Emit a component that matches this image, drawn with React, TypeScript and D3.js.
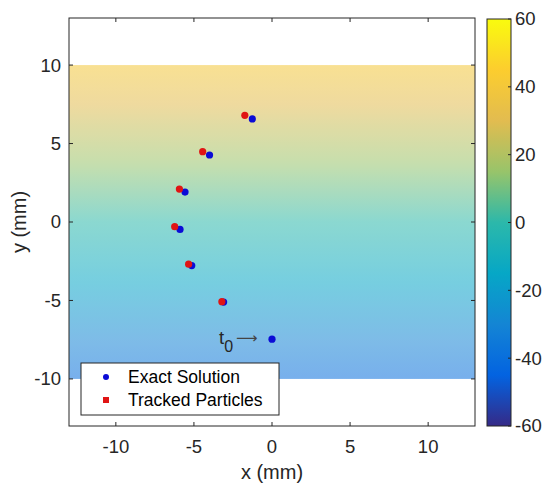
import React from "react";
import * as d3 from "d3";

const W = 545;
const H = 487;

// Data
const exactX = [0, -3.1, -5.14, -5.89, -5.57, -4.0, -1.26];
const exactY = [-7.47, -5.1, -2.78, -0.47, 1.91, 4.27, 6.57];
const trackedX = [-3.21, -5.34, -6.23, -5.93, -4.44, -1.74];
const trackedY = [-5.08, -2.69, -0.3, 2.1, 4.48, 6.8];
const fieldYRange = [-10, 10];
const fieldValueRange = [-40, 40];
const xTicks = [-10, -5, 0, 5, 10];
const yTicks = [-10, -5, 0, 5, 10];
const cbTicks = [-60, -40, -20, 0, 20, 40, 60];
const legendLabels = ["Exact Solution", "Tracked Particles"];

const parula = ["#352a87", "#0363e1", "#1485d4", "#06a7c6", "#2cb8aa", "#98c46a", "#e2bc50", "#fccd2e", "#f9fb0e"];

const FONT = "'Liberation Sans', Arial, Helvetica, sans-serif";

export default function App() {
  const x = d3.scaleLinear().domain([-13, 13]).range([69, 475]);
  const y = d3.scaleLinear().domain([-13, 13]).range([426, 18]);
  const color = d3
    .scaleLinear<string>()
    .domain(d3.range(parula.length).map((i) => -60 + (120 * i) / (parula.length - 1)))
    .range(parula)
    .interpolate(d3.interpolateRgb);

  const cbX0 = 487;
  const cbX1 = 511;
  const cbY = d3.scaleLinear().domain([-60, 60]).range([426, 19]);

  const valOfY = d3.scaleLinear().domain(fieldYRange).range(fieldValueRange);
  const nStops = 40;
  const fieldStops = d3.range(nStops + 1).map((i) => {
    const t = i / nStops;
    const yy = fieldYRange[1] - t * (fieldYRange[1] - fieldYRange[0]);
    return { offset: t, c: color(valOfY(yy)) };
  });
  const cbStops = d3.range(nStops + 1).map((i) => {
    const t = i / nStops;
    return { offset: t, c: color(60 - t * 120) };
  });

  const left = x(-13), right = x(13), top = y(13), bottom = y(-13);
  const tl = 4;

  return (
    <svg width={W} height={H} style={{ position: "absolute", left: 0, top: 0, background: "#fff" }} fontFamily={FONT}>
      <defs>
        <linearGradient id="fieldGrad" x1="0" y1="0" x2="0" y2="1">
          {fieldStops.map((s, i) => (
            <stop key={i} offset={s.offset} stopColor={s.c} />
          ))}
        </linearGradient>
        <linearGradient id="cbGrad" x1="0" y1="0" x2="0" y2="1">
          {cbStops.map((s, i) => (
            <stop key={i} offset={s.offset} stopColor={s.c} />
          ))}
        </linearGradient>
      </defs>
      <rect x={0} y={0} width={W} height={H} fill="#fff" />
      {/* field */}
      <rect
        x={left}
        y={y(fieldYRange[1])}
        width={right - left}
        height={y(fieldYRange[0]) - y(fieldYRange[1])}
        fill="url(#fieldGrad)"
        opacity={0.55}
      />
      {/* ticks */}
      {xTicks.map((t) => (
        <g key={"xt" + t}>
          <line x1={x(t)} x2={x(t)} y1={bottom} y2={bottom - tl} stroke="#262626" />
          <line x1={x(t)} x2={x(t)} y1={top} y2={top + tl} stroke="#262626" />
          <text x={x(t)} y={453} textAnchor="middle" fontSize={18.5} fill="#262626">
            {t}
          </text>
        </g>
      ))}
      {yTicks.map((t) => (
        <g key={"yt" + t}>
          <line x1={left} x2={left + tl} y1={y(t)} y2={y(t)} stroke="#262626" />
          <line x1={right} x2={right - tl} y1={y(t)} y2={y(t)} stroke="#262626" />
          <text x={61} y={y(t)} dy="0.35em" textAnchor="end" fontSize={18.5} fill="#262626">
            {t}
          </text>
        </g>
      ))}
      <rect x={left} y={top} width={right - left} height={bottom - top} fill="none" stroke="#262626" strokeWidth={1} />
      <text x={(left + right) / 2} y={479} textAnchor="middle" fontSize={20} fill="#262626">
        x (mm)
      </text>
      <text transform={`translate(26,${(top + bottom) / 2}) rotate(-90)`} textAnchor="middle" fontSize={20} fill="#262626">
        y (mm)
      </text>
      {/* points */}
      {exactX.map((v, i) => (
        <circle key={"e" + i} cx={x(v)} cy={y(exactY[i])} r={3.6} fill="#0b0bd6" />
      ))}
      {trackedX.map((v, i) => (
        <circle key={"t" + i} cx={x(v)} cy={y(trackedY[i])} r={3.6} fill="#e01414" />
      ))}
      {/* annotation */}
      <text x={219} y={344} fontSize={18.5} fill="#262626">
        t
        <tspan dy={8} fontSize={16}>0</tspan>
      </text>
      <text x={236} y={343} fontSize={15} fill="#444" fontFamily="'DejaVu Sans', sans-serif">
        ⟶
      </text>
      {/* legend */}
      <rect x={81} y={363} width={198} height={52} fill="#fff" stroke="#262626" strokeWidth={1} />
      <circle cx={106} cy={377} r={3} fill="#0b0bd6" />
      <rect x={103} y={397} width={6} height={6} fill="#e01414" />
      <text x={128} y={377} dy="0.35em" fontSize={17.5} fill="#000">
        {legendLabels[0]}
      </text>
      <text x={128} y={400} dy="0.35em" fontSize={17.5} fill="#000">
        {legendLabels[1]}
      </text>
      {/* colorbar */}
      <rect x={cbX0} y={cbY(60)} width={cbX1 - cbX0} height={cbY(-60) - cbY(60)} fill="url(#cbGrad)" stroke="#262626" strokeWidth={1} />
      {cbTicks.map((t) => (
        <g key={"cb" + t}>
          <line x1={cbX1} x2={cbX1 - 3} y1={cbY(t)} y2={cbY(t)} stroke="#262626" />
          <text x={515} y={cbY(t)} dy="0.35em" fontSize={18.5} fill="#262626">
            {t}
          </text>
        </g>
      ))}
    </svg>
  );
}
